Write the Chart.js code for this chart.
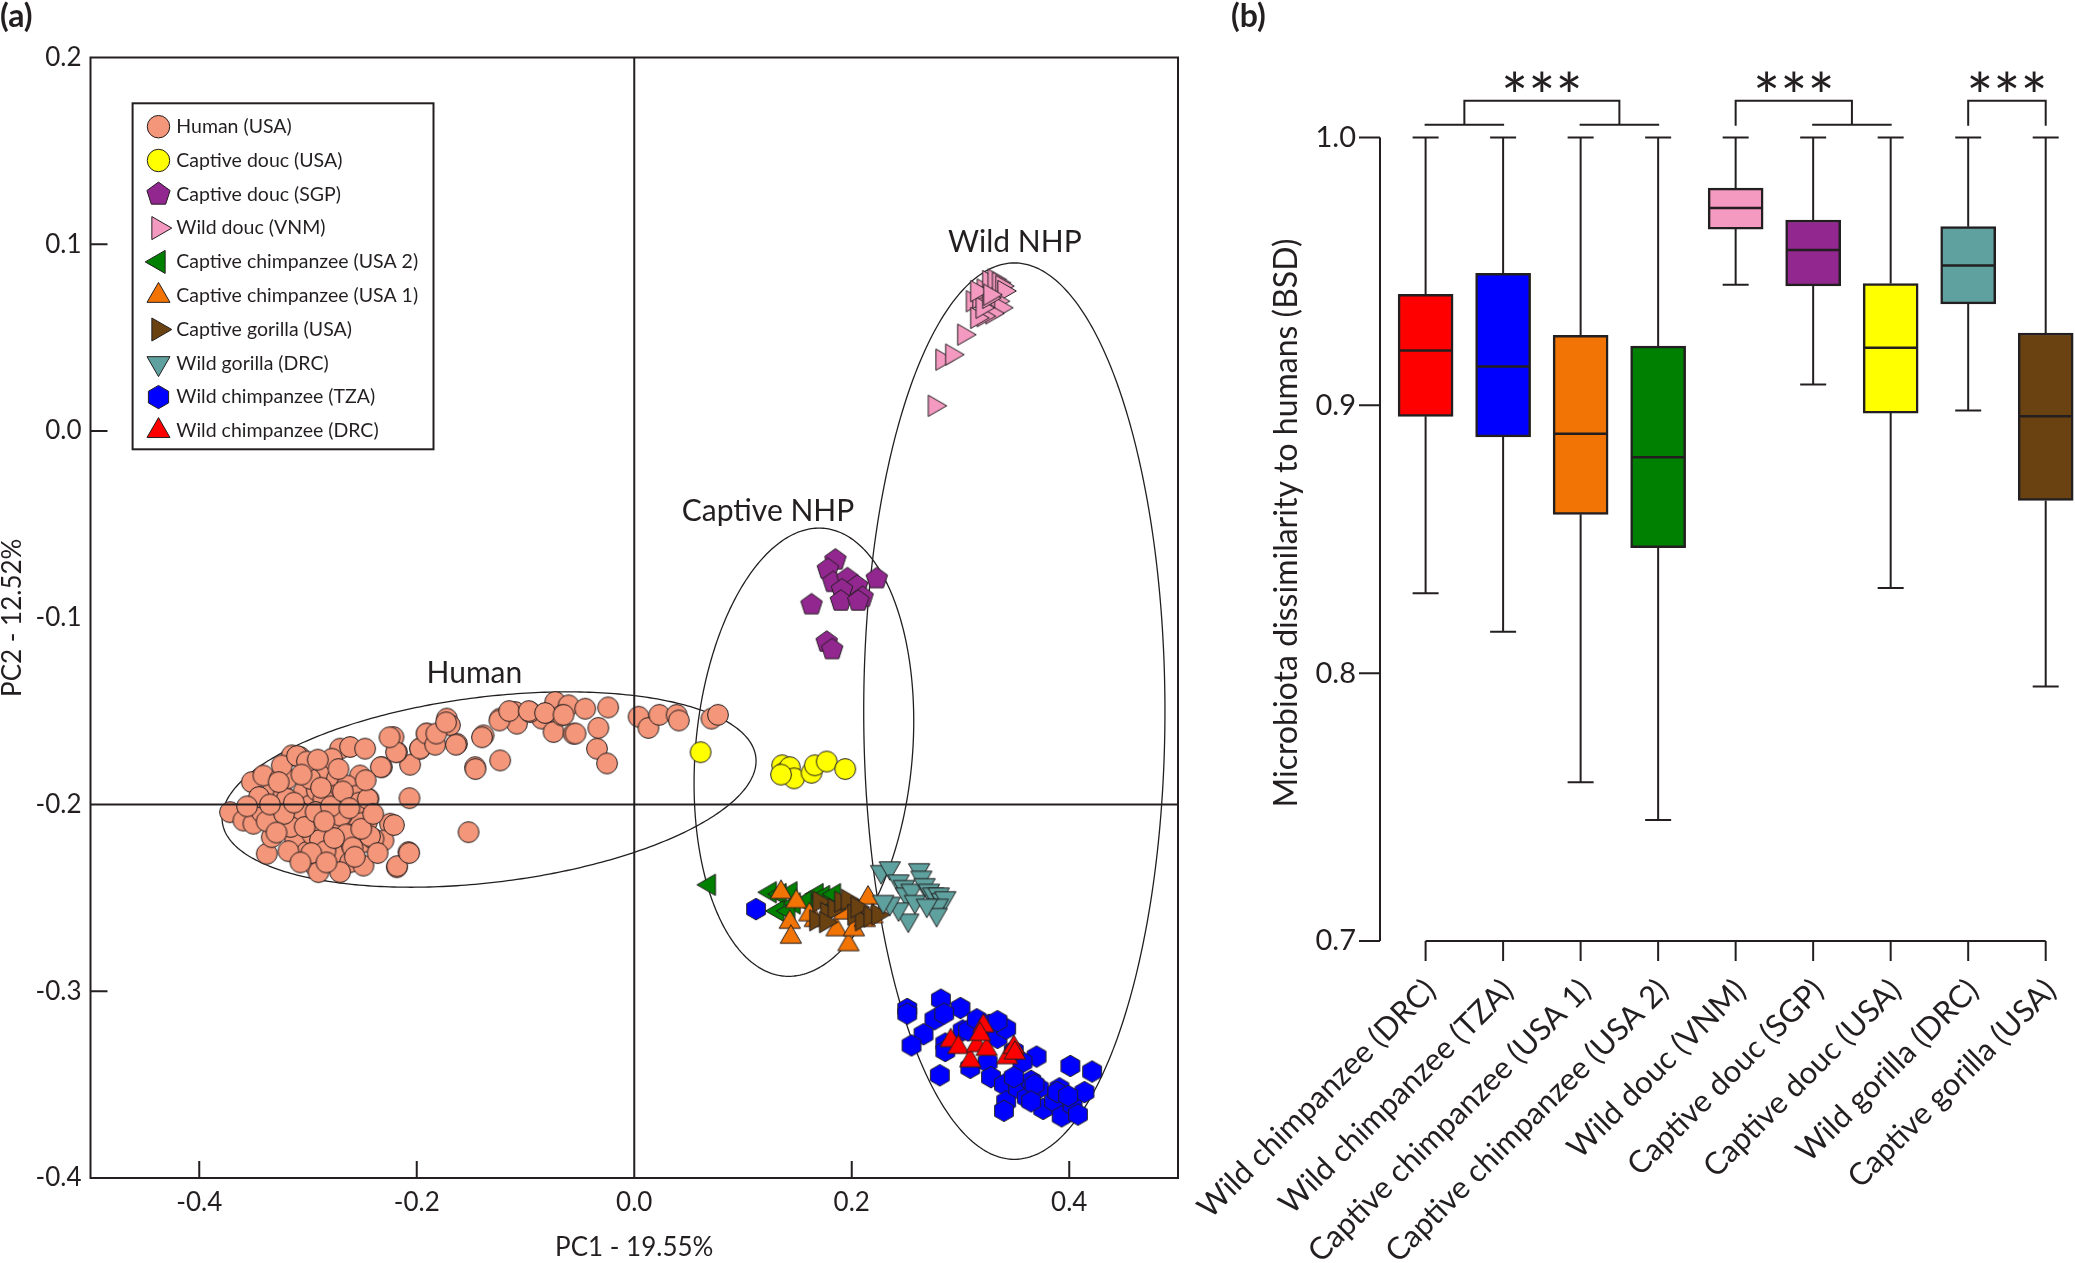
<!DOCTYPE html>
<html><head><meta charset="utf-8">
<script src="https://cdn.jsdelivr.net/npm/chart.js@4.4.1/dist/chart.umd.min.js"></script>
<style>
html,body{margin:0;padding:0;background:#fff;overflow:hidden;width:2075px;height:1263px;}
#wrapA{position:absolute;left:0;top:0;width:1220px;height:1263px;}
#wrapB{position:absolute;left:1150px;top:0;width:925px;height:1263px;}
canvas{display:block;}
</style></head><body>
<div id="wrapA"><canvas id="chartA" width="1220" height="1263"></canvas></div>
<div id="wrapB"><canvas id="chartB" width="925" height="1263"></canvas></div>
<script>
// ================= DATA : panel (a) PCoA =================
const groupNames = ['Human (USA)','Captive douc (USA)','Captive douc (SGP)','Wild douc (VNM)','Captive chimpanzee (USA 2)','Captive chimpanzee (USA 1)','Captive gorilla (USA)','Wild gorilla (DRC)','Wild chimpanzee (TZA)','Wild chimpanzee (DRC)'];
const humanUSA = [[-0.0727,-0.1451],[-0.0604,-0.1469],[-0.0451,-0.1487],[-0.0849,-0.1540],[-0.0742,-0.1612],[-0.0558,-0.1621],[-0.0343,-0.1701],[-0.1095,-0.1505],[-0.1233,-0.1540],[-0.1079,-0.1567],[-0.0957,-0.1505],[-0.0665,-0.1523],
[-0.1386,-0.1630],[-0.1463,-0.1800],[-0.1233,-0.1764],[-0.1631,-0.1675],[-0.1723,-0.1540],[-0.1695,-0.1575],[-0.1846,-0.1630],[-0.1907,-0.1621],[-0.1969,-0.1701],[-0.2061,-0.1787],[-0.2183,-0.1719],[-0.2214,-0.1639],[-0.2321,-0.1800],[-0.2067,-0.1966],[-0.1524,-0.2148],
[-0.3717,-0.2041],[-0.3594,-0.2086],[-0.3517,-0.1880],[-0.3502,-0.2103],[-0.3379,-0.2264],[-0.3333,-0.1934],[-0.3410,-0.1845],[-0.3257,-0.1862],[-0.3226,-0.1952],[-0.3149,-0.1737],[-0.3073,-0.1746],[-0.3042,-0.1934],[-0.2996,-0.2103],[-0.2981,-0.2005],[-0.3103,-0.2238],[-0.3165,-0.2113],[-0.3318,-0.2023],[-0.3333,-0.2175],[-0.3425,-0.2041],[-0.2919,-0.1925],[-0.2889,-0.2184],[-0.2935,-0.2327],[-0.2827,-0.1826],[-0.2735,-0.1862],[-0.2705,-0.1701],[-0.2613,-0.1692],[-0.2475,-0.1701],[-0.2521,-0.1845],[-0.2444,-0.1969],[-0.2459,-0.2094],[-0.2490,-0.2202],[-0.2551,-0.2077],[-0.2643,-0.2157],[-0.2689,-0.2059],[-0.2735,-0.2255],[-0.2674,-0.2273],[-0.2613,-0.2309],[-0.2490,-0.2327],[-0.2245,-0.2103],[-0.2306,-0.2193],[-0.2076,-0.2255],[-0.2183,-0.2336],[-0.2751,-0.1952],[-0.2812,-0.2023],[-0.2981,-0.1862],[-0.3195,-0.1862],[-0.3119,-0.2184],[-0.3011,-0.2255],[-0.2858,-0.2273],[-0.2797,-0.2113],[-0.2597,-0.2220],[-0.2398,-0.2184],[-0.2705,-0.2362],[-0.2904,-0.2362],[-0.3073,-0.2041],[-0.3195,-0.1969],[-0.2858,-0.1969],[-0.2643,-0.1898],[-0.2551,-0.1952],[-0.2781,-0.1755],[-0.3241,-0.1791],
[-0.310,-0.174],[-0.301,-0.177],[-0.316,-0.212],[-0.296,-0.216],[-0.289,-0.219],[-0.284,-0.225],[-0.270,-0.206],[-0.265,-0.216],[-0.259,-0.223],[-0.253,-0.199],[-0.245,-0.197],[-0.243,-0.217],[-0.233,-0.180],[-0.221,-0.211],[-0.219,-0.172],[-0.218,-0.233],[-0.207,-0.226],[-0.225,-0.164],[-0.197,-0.170],[-0.191,-0.162],[-0.183,-0.168],[-0.182,-0.162],[-0.173,-0.156],[-0.164,-0.168],[-0.146,-0.181],[-0.140,-0.164],[-0.124,-0.155],[-0.115,-0.150],[-0.097,-0.150],[-0.082,-0.151],[-0.065,-0.152],[-0.054,-0.162],
[-0.345,-0.196],[-0.338,-0.209],[-0.327,-0.188],[-0.322,-0.205],[-0.318,-0.225],[-0.313,-0.199],[-0.306,-0.184],[-0.303,-0.212],[-0.297,-0.226],[-0.293,-0.204],[-0.288,-0.191],[-0.283,-0.231],[-0.279,-0.201],[-0.276,-0.218],[-0.268,-0.193],[-0.262,-0.202],[-0.257,-0.228],[-0.251,-0.213],[-0.247,-0.187],[-0.240,-0.205],[-0.236,-0.226],[-0.329,-0.215],[-0.335,-0.200],[-0.356,-0.201],[-0.307,-0.231],[-0.291,-0.176],[-0.272,-0.181],[-0.285,-0.209],
[-0.033,-0.159],[-0.025,-0.178],[-0.024,-0.148],[0.004,-0.153],[0.013,-0.159],[0.023,-0.152],[0.039,-0.152],[0.041,-0.155],[0.071,-0.154],[0.077,-0.152]];
const captiveDoucUSA = [[0.061,-0.172],[0.136,-0.179],[0.138,-0.183],[0.143,-0.180],[0.147,-0.186],[0.163,-0.183],[0.166,-0.179],[0.177,-0.177],[0.194,-0.181],[0.135,-0.184]];
const captiveDoucSGP = [[0.185,-0.069],[0.178,-0.074],[0.183,-0.081],[0.196,-0.079],[0.205,-0.083],[0.191,-0.085],[0.210,-0.089],[0.223,-0.079],[0.163,-0.093],[0.190,-0.091],[0.206,-0.091],[0.177,-0.113],[0.182,-0.117]];
const wildDoucVNM = [[0.276,0.0135],[0.283,0.0382],[0.292,0.0409],[0.303,0.0516],[0.311,0.0695],[0.317,0.0713],[0.321,0.0758],[0.326,0.0803],[0.331,0.0811],[0.335,0.0794],[0.338,0.0776],[0.340,0.075],[0.334,0.0695],[0.337,0.066],[0.329,0.063],[0.321,0.0615],[0.315,0.0606],[0.320,0.066],[0.326,0.0713],[0.315,0.0749],[0.327,0.073]];
const captiveChimpUSA2 = [[0.069,-0.243],[0.125,-0.247],[0.134,-0.248],[0.144,-0.247],[0.147,-0.253],[0.132,-0.257],[0.161,-0.251],[0.168,-0.248],[0.174,-0.249],[0.180,-0.251],[0.184,-0.248],[0.157,-0.252],[0.142,-0.257]];
const captiveChimpUSA1 = [[0.135,-0.247],[0.149,-0.252],[0.143,-0.263],[0.144,-0.271],[0.166,-0.262],[0.186,-0.267],[0.197,-0.275],[0.202,-0.267],[0.205,-0.257],[0.215,-0.250],[0.219,-0.260],[0.193,-0.258],[0.161,-0.259],[0.212,-0.262]];
const captiveGorillaUSA = [[0.170,-0.252],[0.177,-0.258],[0.184,-0.256],[0.190,-0.252],[0.196,-0.251],[0.202,-0.259],[0.209,-0.262],[0.167,-0.262],[0.176,-0.263],[0.205,-0.255],[0.217,-0.260],[0.224,-0.259]];
const wildGorillaDRC = [[0.227,-0.236],[0.235,-0.234],[0.243,-0.241],[0.248,-0.244],[0.250,-0.248],[0.255,-0.246],[0.262,-0.235],[0.264,-0.239],[0.267,-0.243],[0.271,-0.246],[0.275,-0.248],[0.280,-0.248],[0.283,-0.251],[0.286,-0.250],[0.279,-0.254],[0.278,-0.259],[0.252,-0.262],[0.243,-0.256],[0.235,-0.253],[0.229,-0.252],[0.258,-0.252],[0.269,-0.254]];
const wildChimpTZA = [[0.112,-0.256],[0.251,-0.3095],[0.251,-0.312],[0.282,-0.3045],[0.300,-0.309],[0.276,-0.315],[0.285,-0.312],[0.266,-0.323],[0.255,-0.329],[0.281,-0.345],[0.286,-0.328],[0.286,-0.332],[0.302,-0.321],[0.307,-0.321],[0.315,-0.315],[0.326,-0.318],[0.334,-0.325],[0.342,-0.320],[0.309,-0.341],[0.325,-0.338],[0.328,-0.346],[0.340,-0.350],[0.342,-0.359],[0.340,-0.364],[0.353,-0.352],[0.361,-0.357],[0.365,-0.348],[0.370,-0.335],[0.372,-0.352],[0.376,-0.363],[0.386,-0.359],[0.391,-0.352],[0.393,-0.367],[0.401,-0.340],[0.403,-0.361],[0.408,-0.366],[0.414,-0.354],[0.421,-0.343],[0.368,-0.350],[0.357,-0.338],[0.349,-0.346],[0.334,-0.316],[0.349,-0.332],[0.365,-0.359],[0.389,-0.354],[0.399,-0.356]];
const wildChimpDRC = [[0.291,-0.3264],[0.298,-0.330],[0.309,-0.3372],[0.321,-0.3185],[0.315,-0.329],[0.324,-0.331],[0.343,-0.3355],[0.349,-0.330],[0.350,-0.333],[0.318,-0.323]];
const pcaXTicks = [-0.4,-0.2,0.0,0.2,0.4];
const pcaYTicks = [0.2,0.1,0.0,-0.1,-0.2,-0.3,-0.4];
const pcaXInnerTicks = [-0.4,-0.2,0.2,0.4];
const pcaYInnerTicks = [0.1,0.0,-0.3];
const pcaXTitle = 'PC1 - 19.55%';
const pcaYTitle = 'PC2 - 12.52%';
const clusterNames = ['Human','Captive NHP','Wild NHP'];
const clusterCenters = [[-0.1335,-0.192],[0.156,-0.172],[0.3495,-0.150]];
const clusterHalfX = [0.2455,0.101,0.1385];
const clusterHalfY = [0.0523,0.120,0.240];
const clusterCorr = [0.293,0.139,0];
const clusterLabelAt = [[-0.147,-0.130],[0.123,-0.043],[0.350,0.101]];

// ================= DATA : panel (b) box plot =================
const boxCategories = ['Wild chimpanzee (DRC)','Wild chimpanzee (TZA)','Captive chimpanzee (USA 1)','Captive chimpanzee (USA 2)','Wild douc (VNM)','Captive douc (SGP)','Captive douc (USA)','Wild gorilla (DRC)','Captive gorilla (USA)'];
const boxMax    = [1.0,1.0,1.0,1.0,1.0,1.0,1.0,1.0,1.0];
const boxQ3     = [0.9414,0.9493,0.9261,0.9221,0.9811,0.9692,0.9455,0.9667,0.9270];
const boxMedian = [0.9205,0.9145,0.8894,0.8806,0.9737,0.9580,0.9215,0.9522,0.8959];
const boxQ1     = [0.8959,0.8882,0.8593,0.8469,0.9658,0.9446,0.8971,0.9379,0.8645];
const boxMin    = [0.8298,0.8155,0.7593,0.7452,0.9450,0.9078,0.8318,0.8981,0.7950];
const bsdTicks = [0.7,0.8,0.9,1.0];
const bsdTitle = 'Microbiota dissimilarity to humans (BSD)';
const sigComparisons = [[[0,1],[2,3]],[[4],[5,6]],[[7],[8]]];
const sigText = '***';
const sigLevelLow = 1.0048, sigLevelStart = 1.0044, sigLevelHigh = 1.0137, sigLevelText = 1.0205;

// ================= STYLE =================
const INK = '#231f20';
const FONT = 'Lato, "Open Sans", sans-serif';
const groupColors = ['#F4967A','#FFFF00','#92278F','#F49AC1','#008000','#F27405','#6A4212','#5FA19E','#0000FF','#FF0000'];
const groupShapes = ['circle','circle','pent','triRight','triLeft','triUp','triRight','triDown','hex','triUp'];
const shapeSize = {circle:10.4, pent:11.3, hex:10.8, triUp:12.3, triDown:12.3, triLeft:12.3, triRight:12.3};
const boxColors = ['#FF0000','#0000FF','#F27405','#008000','#F49AC1','#92278F','#FFFF00','#5FA19E','#6A4212'];

function shapePath(ctx, shape, cx, cy, s){
  ctx.beginPath();
  if (shape==='circle'){ ctx.arc(cx,cy,s,0,Math.PI*2); return; }
  const cfg = {triUp:[3,-90],triDown:[3,90],triRight:[3,0],triLeft:[3,180],pent:[5,-90],hex:[6,-90]}[shape];
  for (let k=0;k<cfg[0];k++){
    const a=(cfg[1]+360*k/cfg[0])*Math.PI/180;
    const px=cx+s*Math.cos(a), py=cy+s*Math.sin(a);
    if(k) ctx.lineTo(px,py); else ctx.moveTo(px,py);
  }
  ctx.closePath();
}
function drawMarker(ctx, shape, color, cx, cy, scale){
  const s = shapeSize[shape]*(scale||1);
  shapePath(ctx, shape, cx, cy, s);
  ctx.fillStyle=color; ctx.fill();
  ctx.lineWidth=1; ctx.strokeStyle=INK; ctx.stroke();
}
function markerImage(shape, color){
  const s = shapeSize[shape];
  const n = Math.ceil(s)*2+4;
  const c = document.createElement('canvas'); c.width=n; c.height=n;
  drawMarker(c.getContext('2d'), shape, color, n/2, n/2, 1);
  return c;
}
const fmt1 = v => (Math.abs(v)<1e-9?0:v).toFixed(1);

// ================= PANEL (a) =================
const pcaSeries = [humanUSA,captiveDoucUSA,captiveDoucSGP,wildDoucVNM,captiveChimpUSA2,captiveChimpUSA1,captiveGorillaUSA,wildGorillaDRC,wildChimpTZA,wildChimpDRC];
const A_W = 1220, A_H = 1263, A_LEFT = 90.5, A_RIGHT = 1178, A_TOP = 57.5, A_BOTTOM = 1178;

const pcaDecor = {
  id:'pcaDecor',
  beforeDatasetsDraw(chart){
    const {ctx, scales:{x,y}} = chart;
    ctx.save(); ctx.strokeStyle=INK; ctx.lineWidth=1.3;
    for (let k=0;k<clusterNames.length;k++){
      const cx=x.getPixelForValue(clusterCenters[k][0]), cy=y.getPixelForValue(clusterCenters[k][1]);
      const rx=Math.abs(x.getPixelForValue(clusterHalfX[k])-x.getPixelForValue(0));
      const ry=Math.abs(y.getPixelForValue(clusterHalfY[k])-y.getPixelForValue(0));
      const r=clusterCorr[k], l21=-r*ry, l22=ry*Math.sqrt(1-r*r);
      ctx.beginPath();
      for (let t=0;t<=360;t+=1){
        const a=t*Math.PI/180;
        const px=cx+rx*Math.cos(a), py=cy+l21*Math.cos(a)+l22*Math.sin(a);
        if(t) ctx.lineTo(px,py); else ctx.moveTo(px,py);
      }
      ctx.closePath(); ctx.stroke();
    }
    ctx.restore();
  },
  afterDatasetsDraw(chart){
    const {ctx, chartArea:ca, scales:{x,y}} = chart;
    ctx.save(); ctx.strokeStyle=INK; ctx.lineWidth=2;
    const x0=x.getPixelForValue(0), yh=y.getPixelForValue(-0.2);
    ctx.beginPath(); ctx.moveTo(x0,ca.top); ctx.lineTo(x0,ca.bottom);
    ctx.moveTo(ca.left,yh); ctx.lineTo(ca.right,yh); ctx.stroke();
    ctx.strokeRect(ca.left,ca.top,ca.right-ca.left,ca.bottom-ca.top);
    ctx.beginPath();
    pcaYInnerTicks.forEach(v=>{const py=y.getPixelForValue(v); ctx.moveTo(ca.left,py); ctx.lineTo(ca.left+17,py);});
    pcaXInnerTicks.forEach(v=>{const px=x.getPixelForValue(v); ctx.moveTo(px,ca.bottom); ctx.lineTo(px,ca.bottom-17);});
    ctx.stroke();
    ctx.restore();
  },
  afterDraw(chart){
    const {ctx, scales:{x,y}} = chart;
    ctx.save(); ctx.fillStyle=INK;
    ctx.font='30px '+FONT; ctx.textAlign='center'; ctx.textBaseline='middle';
    clusterNames.forEach((n,k)=>ctx.fillText(n, x.getPixelForValue(clusterLabelAt[k][0]), y.getPixelForValue(clusterLabelAt[k][1])));
    const lx=132.6, ly=103.3, lw=300.9, lh=346;
    ctx.fillStyle='#fff'; ctx.fillRect(lx,ly,lw,lh);
    ctx.strokeStyle=INK; ctx.lineWidth=2; ctx.strokeRect(lx,ly,lw,lh);
    ctx.font='19.5px '+FONT; ctx.textAlign='left'; ctx.textBaseline='middle';
    groupNames.forEach((n,i)=>{
      const yy = 126.7 + i*33.8;
      drawMarker(ctx, groupShapes[i], groupColors[i], 158.5, yy, 1.08);
      ctx.fillStyle=INK; ctx.fillText(n, 176.3, yy);
    });
    ctx.font='bold 32px '+FONT; ctx.textBaseline='alphabetic'; ctx.textAlign='left';
    ctx.fillText('(a)', 0, 27);
    ctx.restore();
  }
};

new Chart(document.getElementById('chartA'), {
  type:'scatter',
  data:{datasets: pcaSeries.map((arr,i)=>({
    label: groupNames[i],
    data: arr.map(p=>({x:p[0],y:p[1]})),
    pointStyle: markerImage(groupShapes[i], groupColors[i]),
    pointRadius: 10, pointHoverRadius: 10,
    backgroundColor: groupColors[i], borderColor: INK,
    order: 20 - i
  }))},
  options:{
    responsive:false, animation:false, devicePixelRatio:1,
    events:[],
    layout:{padding:{left:0,top:A_TOP,right:A_W-A_RIGHT,bottom:0}},
    plugins:{legend:{display:false}, tooltip:{enabled:false}},
    scales:{
      x:{type:'linear', min:-0.5, max:0.5,
         afterBuildTicks:s=>{s.ticks=pcaXTicks.map(v=>({value:v}));},
         afterFit:s=>{s.height=A_H-A_BOTTOM; s.paddingLeft=0; s.paddingRight=0;},
         grid:{display:false, drawTicks:false}, border:{display:false},
         ticks:{padding:9, color:INK, font:{family:FONT,size:26}, callback:v=>fmt1(v)},
         title:{display:true, text:pcaXTitle, color:INK, font:{family:FONT,size:26,lineHeight:1}, padding:{top:0,bottom:2}}},
      y:{type:'linear', min:-0.4, max:0.2,
         afterBuildTicks:s=>{s.ticks=pcaYTicks.map(v=>({value:v}));},
         afterFit:s=>{s.width=A_LEFT; s.paddingTop=0; s.paddingBottom=0;},
         grid:{display:false, drawTicks:false}, border:{display:false},
         ticks:{padding:9, color:INK, font:{family:FONT,size:26}, callback:v=>fmt1(v)},
         title:{display:true, text:pcaYTitle, color:INK, font:{family:FONT,size:26,lineHeight:1}, padding:{top:0,bottom:0}}}
    }
  },
  plugins:[pcaDecor]
});

// ================= PANEL (b) =================
const B_OFF = 1150, B_W = 925, B_H = 1263;
const B_FIRST = 1425.6 - B_OFF, B_LAST = 2045.7 - B_OFF, B_TOP = 137.5, B_BOTTOM = 941;
const B_YAXIS_GAP = 45.6, B_TICK = 21, B_XTICK = 20;

const boxDecor = {
  id:'boxDecor',
  afterDatasetsDraw(chart){
    const {ctx, scales:{x,y}} = chart;
    ctx.save(); ctx.strokeStyle=INK; ctx.lineCap='butt';
    boxCategories.forEach((c,i)=>{
      const px=x.getPixelForValue(i);
      ctx.lineWidth=2;
      ctx.beginPath();
      ctx.moveTo(px,y.getPixelForValue(boxQ3[i])); ctx.lineTo(px,y.getPixelForValue(boxMax[i]));
      ctx.moveTo(px,y.getPixelForValue(boxQ1[i])); ctx.lineTo(px,y.getPixelForValue(boxMin[i]));
      ctx.moveTo(px-13,y.getPixelForValue(boxMax[i])); ctx.lineTo(px+13,y.getPixelForValue(boxMax[i]));
      ctx.moveTo(px-13,y.getPixelForValue(boxMin[i])); ctx.lineTo(px+13,y.getPixelForValue(boxMin[i]));
      ctx.stroke();
      ctx.lineWidth=2.5;
      ctx.beginPath();
      ctx.moveTo(px-26.5,y.getPixelForValue(boxMedian[i])); ctx.lineTo(px+26.5,y.getPixelForValue(boxMedian[i]));
      ctx.stroke();
    });
    ctx.restore();
  },
  afterDraw(chart){
    const {ctx, chartArea:ca, scales:{x,y}} = chart;
    ctx.save(); ctx.strokeStyle=INK; ctx.fillStyle=INK; ctx.lineWidth=2;
    const ax = ca.left - B_YAXIS_GAP;
    ctx.beginPath();
    ctx.moveTo(ax, y.getPixelForValue(bsdTicks[bsdTicks.length-1])); ctx.lineTo(ax, y.getPixelForValue(bsdTicks[0]));
    bsdTicks.forEach(v=>{const py=y.getPixelForValue(v); ctx.moveTo(ax-B_TICK,py); ctx.lineTo(ax,py);});
    const ay = y.getPixelForValue(bsdTicks[0]);
    ctx.moveTo(x.getPixelForValue(0), ay); ctx.lineTo(x.getPixelForValue(boxCategories.length-1), ay);
    boxCategories.forEach((c,i)=>{const px=x.getPixelForValue(i); ctx.moveTo(px,ay); ctx.lineTo(px,ay+B_XTICK);});
    ctx.stroke();
    const yLow=y.getPixelForValue(sigLevelLow), yStart=y.getPixelForValue(sigLevelStart), yHigh=y.getPixelForValue(sigLevelHigh), yTxt=y.getPixelForValue(sigLevelText);
    ctx.beginPath();
    const legX = side => {
      if (side.length===1){ const px=x.getPixelForValue(side[0]); ctx.moveTo(px,yStart); ctx.lineTo(px,yHigh); return px; }
      const a=x.getPixelForValue(side[0]), b=x.getPixelForValue(side[side.length-1]);
      ctx.moveTo(a-1,yLow); ctx.lineTo(b+1,yLow);
      const m=(a+b)/2; ctx.moveTo(m,yLow); ctx.lineTo(m,yHigh); return m;
    };
    const centers=[];
    sigComparisons.forEach(cmp=>{
      const l=legX(cmp[0]), r=legX(cmp[1]);
      ctx.moveTo(l-1,yHigh); ctx.lineTo(r+1,yHigh);
      centers.push((l+r)/2);
    });
    ctx.stroke();
    ctx.font='64px '+FONT; ctx.textAlign='center'; ctx.textBaseline='alphabetic';
    centers.forEach(cx=>ctx.fillText(sigText, cx, yTxt+37));
    ctx.save();
    ctx.translate(1287-B_OFF, 523); ctx.rotate(-Math.PI/2);
    ctx.font='32px '+FONT; ctx.textAlign='center'; ctx.textBaseline='middle';
    ctx.fillText(bsdTitle, 0, 0);
    ctx.restore();
    ctx.font='bold 32px '+FONT; ctx.textAlign='left'; ctx.textBaseline='alphabetic';
    ctx.fillText('(b)', 1231-B_OFF, 27);
    ctx.restore();
  }
};

new Chart(document.getElementById('chartB'), {
  type:'bar',
  data:{labels: boxCategories, datasets:[{
    data: boxQ1.map((q,i)=>[q, boxQ3[i]]),
    backgroundColor: boxColors, borderColor: INK, borderWidth: 2.5, borderSkipped:false,
    barThickness: 55, clip:false
  }]},
  options:{
    responsive:false, animation:false, devicePixelRatio:1, events:[],
    layout:{padding:{left:0,top:B_TOP,right:B_W-B_LAST,bottom:0}},
    plugins:{legend:{display:false}, tooltip:{enabled:false}},
    scales:{
      x:{type:'category', offset:false,
         afterFit:s=>{s.height=B_H-B_BOTTOM; s.paddingLeft=0; s.paddingRight=0;},
         grid:{display:false, drawTicks:false}, border:{display:false},
         ticks:{autoSkip:false, minRotation:45, maxRotation:45, padding:31, labelOffset:5, color:INK, font:{family:FONT,size:31}}},
      y:{type:'linear', min:0.7, max:1.0,
         afterBuildTicks:s=>{s.ticks=bsdTicks.map(v=>({value:v}));},
         afterFit:s=>{s.width=B_FIRST; s.paddingTop=0; s.paddingBottom=0;},
         grid:{display:false, drawTicks:false}, border:{display:false},
         ticks:{padding:B_YAXIS_GAP+B_TICK+3, color:INK, font:{family:FONT,size:29}, callback:v=>fmt1(v)}}
    }
  },
  plugins:[boxDecor]
});
</script></body></html>
